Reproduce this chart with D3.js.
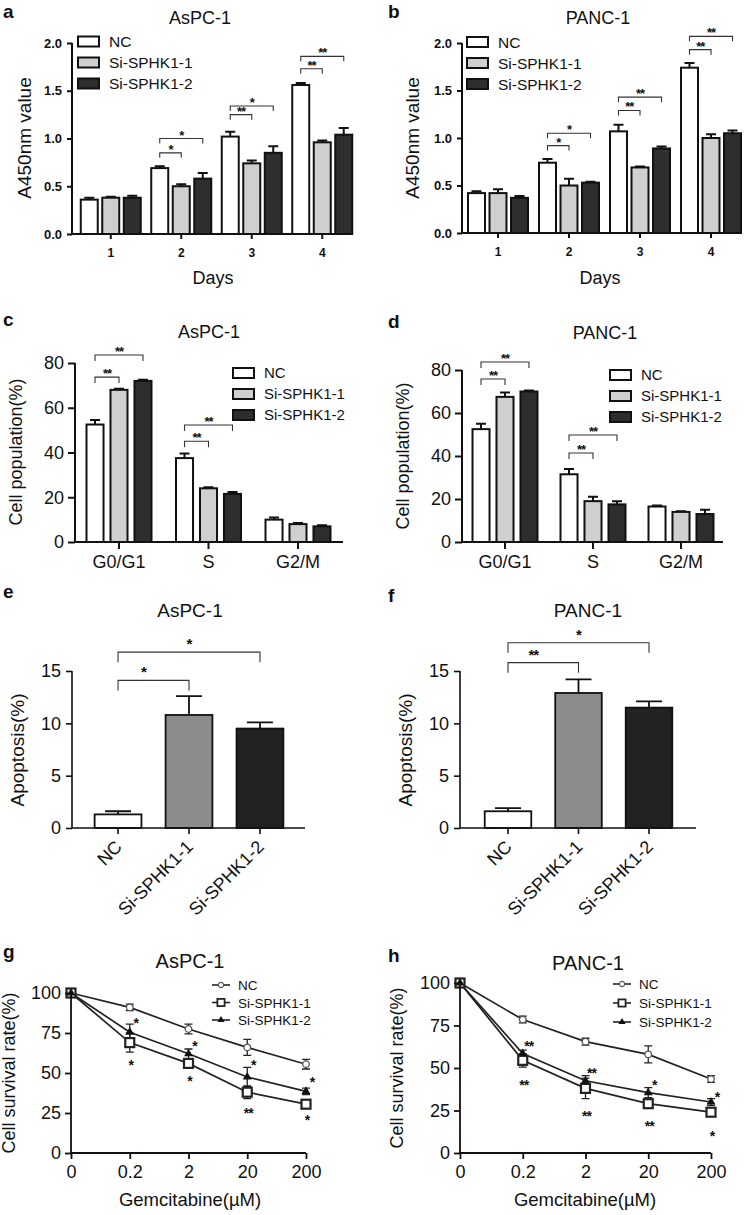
<!DOCTYPE html>
<html>
<head>
<meta charset="utf-8">
<script src="https://cdn.jsdelivr.net/npm/d3@7/dist/d3.min.js"></script>
<style>
  body { margin: 0; background: #fff; }
  svg { display: block; }
  text { font-family: "Liberation Sans", Arial, Helvetica, sans-serif; fill: #111; }
</style>
</head>
<body>
<svg id="fig" width="750" height="1215"></svg>
<script>
// ---- data ----
const groups = ['NC', 'Si-SPHK1-1', 'Si-SPHK1-2'];
const days = ['1', '2', '3', '4'];
const phases = ['G0/G1', 'S', 'G2/M'];
const doses = ['0', '0.2', '2', '20', '200'];

// a: CCK-8, AsPC-1 (rows = NC, Si-1, Si-2)
const aspcA450 = [[0.36, 0.69, 1.02, 1.56], [0.38, 0.50, 0.74, 0.96], [0.38, 0.58, 0.85, 1.04]];
const aspcA450Err = [[0.02, 0.02, 0.05, 0.02], [0.01, 0.02, 0.03, 0.02], [0.02, 0.06, 0.07, 0.07]];
// b: CCK-8, PANC-1
const pancA450 = [[0.42, 0.74, 1.07, 1.74], [0.42, 0.50, 0.69, 1.00], [0.37, 0.53, 0.89, 1.05]];
const pancA450Err = [[0.02, 0.04, 0.07, 0.05], [0.04, 0.07, 0.01, 0.04], [0.02, 0.01, 0.02, 0.03]];
// c/d: cell cycle
const aspcCycle = [[52.5, 37.5, 10], [68, 24, 8], [72, 21.5, 7]];
const aspcCycleErr = [[2, 2, 1], [0.5, 0.5, 0.5], [0.5, 0.8, 0.5]];
const pancCycle = [[52.5, 31.5, 16.5], [67.5, 19, 14], [70, 17.5, 13]];
const pancCycleErr = [[2.5, 2.5, 0.5], [2, 2, 0.3], [0.5, 1.5, 2]];
// e/f: apoptosis
const aspcApop = [1.3, 10.8, 9.5];
const aspcApopErr = [0.3, 1.8, 0.6];
const pancApop = [1.6, 12.9, 11.5];
const pancApopErr = [0.3, 1.3, 0.6];
// g/h: survival vs gemcitabine
const aspcSurv = [[100, 91, 77.5, 66, 55.5], [100, 69, 56, 38, 30.5], [100, 75.5, 62, 47.5, 38.5]];
const aspcSurvErr = [[0, 2, 3, 5, 3], [0, 6, 3, 4, 2], [0, 5, 3, 6, 2]];
const pancSurv = [[100, 78.5, 65.5, 58, 43.5], [100, 54.5, 38, 29, 24], [100, 58.5, 42.5, 35.5, 30]];
const pancSurvErr = [[0, 2, 2, 5, 2], [0, 4, 6, 2, 2], [0, 2, 3, 3, 2]];

// significance brackets: category, compared group, height (data units), label
const sigA = [['2', 1, 0.85, '*'], ['2', 2, 1.0, '*'], ['3', 1, 1.25, '**'], ['3', 2, 1.34, '*'], ['4', 1, 1.73, '**'], ['4', 2, 1.86, '**']];
const sigB = [['2', 1, 0.92, '*'], ['2', 2, 1.05, '*'], ['3', 1, 1.29, '**'], ['3', 2, 1.43, '**'], ['4', 1, 1.93, '**'], ['4', 2, 2.07, '**']];
const sigC = [['G0/G1', 1, 73.7, '**'], ['G0/G1', 2, 83.6, '**'], ['S', 1, 45, '**'], ['S', 2, 52.3, '**']];
const sigD = [['G0/G1', 1, 75.8, '**'], ['G0/G1', 2, 83.7, '**'], ['S', 1, 41.4, '**'], ['S', 2, 49.8, '**']];
const sigE = [[1, 14.1, '*'], [2, 16.8, '*']];
const sigF = [[1, 15.8, '**'], [2, 17.7, '*']];
// stars on survival curves: dose, height, label (upper = Si-2, lower = Si-1)
const starsG = [['0.2', 83, '*', 1], ['0.2', 57, '*', 0], ['2', 69, '*', 1], ['2', 47, '*', 0], ['20', 57, '*', 1], ['20', 27, '**', 0], ['200', 46, '*', 1], ['200', 22.5, '*', 0]];
const starsH = [['0.2', 65, '**', 1], ['0.2', 42, '**', 0], ['2', 49, '**', 1], ['2', 23.5, '**', 0], ['20', 42, '*', 1], ['20', 17.6, '**', 0], ['200', 35, '*', 1], ['200', 12, '*', 0]];

const FONT = '"Liberation Sans", Arial, sans-serif';
const svg = d3.select('#fig');

function letter(x, y, t) {
  svg.append('text').attr('x', x).attr('y', y).text(t)
    .style('font-size', '19px').style('font-weight', '700');
}
function title(x, y, t, fs) {
  svg.append('text').attr('x', x).attr('y', y).attr('text-anchor', 'middle').text(t).style('font-size', fs + 'px');
}
function yTitle(x, y, t, fs) {
  svg.append('text').attr('transform', 'translate(' + x + ',' + y + ') rotate(-90)')
    .attr('text-anchor', 'middle').text(t).style('font-size', fs + 'px');
}
function styleAxis(g, fs, bold, sw) {
  g.selectAll('path.domain').remove();
  g.selectAll('line').attr('stroke', '#111').attr('stroke-width', sw);
  g.selectAll('text').style('font-size', fs + 'px').style('font-weight', bold ? '700' : '400')
    .style('font-family', FONT).attr('fill', '#111');
}

// grouped bar chart (a-d)
function groupedBars(o) {
  const g = svg.append('g');
  const y = d3.scaleLinear().domain(o.yDomain).range([o.yBottom, o.yTop]);
  const x = d3.scaleBand().domain(o.cats).range([o.bandStart, o.bandStart + o.step * o.cats.length]);
  const xs = d3.scaleBand().domain(d3.range(o.vals.length)).range([-o.groupW / 2, o.groupW / 2]).paddingInner(o.pad);
  const cx = (c, s) => x(c) + x.bandwidth() / 2 + xs(s) + xs.bandwidth() / 2;

  o.vals.forEach((row, s) => {
    const gg = g.append('g');
    gg.selectAll('path.err').data(row).join('path').attr('class', 'err')
      .attr('d', (d, i) => {
        const xc = cx(o.cats[i], s), yt = y(d + o.errs[s][i]);
        return 'M' + xc + ',' + y(d) + 'V' + yt + 'M' + (xc - o.cap) + ',' + yt + 'H' + (xc + o.cap);
      })
      .attr('stroke', '#111').attr('stroke-width', o.sw).attr('fill', 'none');
    gg.selectAll('rect').data(row).join('rect')
      .attr('x', (d, i) => cx(o.cats[i], s) - xs.bandwidth() / 2)
      .attr('y', d => y(d))
      .attr('width', xs.bandwidth())
      .attr('height', d => y(o.yDomain[0]) - y(d))
      .attr('fill', o.fills[s]).attr('stroke', '#111').attr('stroke-width', o.sw);
  });

  // axes
  const ya = g.append('g').attr('transform', 'translate(' + o.axisX + ',0)')
    .call(d3.axisLeft(y).tickValues(o.yTicks).tickFormat(o.yFmt).tickSize(o.tick).tickPadding(o.tickPad));
  styleAxis(ya, o.yFs, o.bold, o.sw);
  const xa = g.append('g').attr('transform', 'translate(0,' + o.yBottom + ')')
    .call(d3.axisBottom(x).tickSize(o.tick).tickPadding(o.xPad));
  styleAxis(xa, o.xFs, o.bold, o.sw);
  g.append('path').attr('d', 'M' + o.axisX + ',' + y(o.yDomain[1]) + 'V' + o.yBottom + 'H' + o.axisEnd)
    .attr('stroke', '#111').attr('stroke-width', o.sw).attr('fill', 'none');

  // brackets
  o.sig.forEach(([c, k, v, t]) => {
    const xa0 = cx(c, 0), xb = cx(c, k), yy = y(v);
    g.append('path').attr('d', 'M' + xa0 + ',' + (yy + o.leg) + 'V' + yy + 'H' + xb + 'V' + (yy + o.leg))
      .attr('stroke', '#333').attr('stroke-width', 1.1).attr('fill', 'none');
    g.append('text').attr('x', (xa0 + xb) / 2).attr('y', yy + o.starDy).attr('text-anchor', 'middle')
      .text(t).style('font-size', o.starFs + 'px').style('font-weight', '700').style('letter-spacing', '-1px');
  });

  // legend
  const lg = g.append('g');
  groups.forEach((name, s) => {
    const ly = o.legY + s * o.legStep;
    lg.append('rect').attr('x', o.legX).attr('y', ly - 5).attr('width', 21).attr('height', 10)
      .attr('fill', o.fills[s]).attr('stroke', '#111').attr('stroke-width', 2);
    lg.append('text').attr('x', o.legX + 31).attr('y', ly + o.legFs * 0.36).text(name).style('font-size', o.legFs + 'px');
  });
  return { x, y };
}

// single bar chart (e-f)
function apoBars(o) {
  const g = svg.append('g');
  const y = d3.scaleLinear().domain([0, 15]).range([o.yBottom, o.yTop]);
  const x = d3.scaleBand().domain(groups).range([o.bandStart, o.bandStart + o.step * 3]).padding(0.34);
  const cx = c => x(c) + x.bandwidth() / 2;
  g.selectAll('path.err').data(o.vals).join('path').attr('class', 'err')
    .attr('d', (d, i) => {
      const xc = cx(groups[i]), yt = y(d + o.errs[i]);
      return 'M' + xc + ',' + y(d) + 'V' + yt + 'M' + (xc - 13) + ',' + yt + 'H' + (xc + 13);
    })
    .attr('stroke', '#111').attr('stroke-width', 1.8).attr('fill', 'none');
  g.selectAll('rect').data(o.vals).join('rect')
    .attr('x', (d, i) => x(groups[i])).attr('y', d => y(d))
    .attr('width', x.bandwidth()).attr('height', d => y(0) - y(d))
    .attr('fill', (d, i) => o.fills[i]).attr('stroke', '#111').attr('stroke-width', 1.8);

  const ya = g.append('g').attr('transform', 'translate(' + o.axisX + ',0)')
    .call(d3.axisLeft(y).tickValues([0, 5, 10, 15]).tickSize(6).tickPadding(5));
  styleAxis(ya, 18, false, 1.6);
  const xa = g.append('g').attr('transform', 'translate(0,' + o.yBottom + ')')
    .call(d3.axisBottom(x).tickSize(6));
  styleAxis(xa, 18, false, 1.6);
  xa.selectAll('text').attr('y', 0).attr('dy', 0).attr('text-anchor', 'end')
    .attr('transform', 'translate(5,20) rotate(-45)');
  g.append('path').attr('d', 'M' + o.axisX + ',' + y(15) + 'V' + o.yBottom + 'H' + o.axisEnd)
    .attr('stroke', '#111').attr('stroke-width', 1.6).attr('fill', 'none');

  o.sig.forEach(([k, v, t]) => {
    const xa0 = cx(groups[0]), xb = cx(groups[k]), yy = y(v);
    g.append('path').attr('d', 'M' + xa0 + ',' + (yy + 10) + 'V' + yy + 'H' + xb + 'V' + (yy + 10))
      .attr('stroke', '#333').attr('stroke-width', 1.1).attr('fill', 'none');
    g.append('text').attr('x', (xa0 + xb) / 2 - (k === 1 ? 10 : 0)).attr('y', yy - 3).attr('text-anchor', 'middle')
      .text(t).style('font-size', '15px').style('font-weight', '700').style('letter-spacing', '-1px');
  });
}

// survival curves (g-h)
function survival(o) {
  const g = svg.append('g');
  const y = d3.scaleLinear().domain([0, 100]).range([o.yBottom, o.yTop]);
  const x = d3.scalePoint().domain(doses).range([o.axisX, o.axisEnd]);
  const line = d3.line().x((d, i) => x(doses[i])).y(d => y(d));
  o.vals.forEach(row => {
    g.append('path').attr('d', line(row)).attr('fill', 'none').attr('stroke', '#222').attr('stroke-width', 1.7);
  });
  o.vals.forEach((row, s) => {
    g.selectAll('path.e' + s).data(row).join('path').attr('class', 'e' + s)
      .attr('d', (d, i) => {
        const e = o.errs[s][i];
        if (!e) return null;
        const xc = x(doses[i]), y1 = y(d + e), y0 = y(d - e);
        return 'M' + xc + ',' + y0 + 'V' + y1 + 'M' + (xc - 4) + ',' + y1 + 'H' + (xc + 4) + 'M' + (xc - 4) + ',' + y0 + 'H' + (xc + 4);
      })
      .attr('stroke', '#222').attr('stroke-width', 1.3).attr('fill', 'none');
  });
  const marker = (sel, s) => {
    if (s === 0) sel.append('circle').attr('r', 3.3).attr('fill', '#fff').attr('stroke', '#555').attr('stroke-width', 1.3);
    else if (s === 1) sel.append('rect').attr('x', -4.5).attr('y', -4.5).attr('width', 9).attr('height', 9)
      .attr('fill', '#fff').attr('stroke', '#222').attr('stroke-width', 2.2);
    else sel.append('path').attr('d', d3.symbol(d3.symbolTriangle, 34)()).attr('fill', '#111');
  };
  o.vals.forEach((row, s) => {
    row.forEach((d, i) => {
      const m = g.append('g').attr('transform', 'translate(' + x(doses[i]) + ',' + y(d) + ')');
      marker(m, s);
    });
  });

  const ya = g.append('g').attr('transform', 'translate(' + o.axisX + ',0)')
    .call(d3.axisLeft(y).tickValues([0, 25, 50, 75, 100]).tickSize(6).tickPadding(4));
  styleAxis(ya, 18, false, 1.8);
  const xa = g.append('g').attr('transform', 'translate(0,' + o.yBottom + ')')
    .call(d3.axisBottom(x).tickSize(6).tickPadding(6));
  styleAxis(xa, 18, false, 1.8);
  g.append('path').attr('d', 'M' + o.axisX + ',' + o.yTop + 'V' + o.yBottom + 'H' + o.axisEnd)
    .attr('stroke', '#111').attr('stroke-width', 1.8).attr('fill', 'none');

  o.stars.forEach(([dose, v, t, up]) => {
    g.append('text').attr('x', x(dose) + (up ? 6 : 1)).attr('y', y(v) + 8).attr('text-anchor', 'middle')
      .text(t).style('font-size', '14px').style('font-weight', '700').style('letter-spacing', '-1px');
  });

  groups.forEach((name, s) => {
    const ly = o.legY + s * o.legStep;
    g.append('path').attr('d', 'M' + o.legX + ',' + ly + 'h18').attr('stroke', '#222').attr('stroke-width', 1.6);
    marker(g.append('g').attr('transform', 'translate(' + (o.legX + 9) + ',' + ly + ') scale(0.8)'), s);
    g.append('text').attr('x', o.legX + 26).attr('y', ly + 5).text(name).style('font-size', '13.5px');
  });
}

const barFills = ['#ffffff', '#cfcfcf', '#2e2e2e'];

// ---- a ----
letter(3, 18, 'a');
title(200, 24, 'AsPC-1', 18);
yTitle(31, 138, 'A450nm value', 19);
title(213, 284, 'Days', 18);
groupedBars({
  cats: days, vals: aspcA450, errs: aspcA450Err, fills: barFills, sig: sigA,
  yDomain: [0, 2], yTicks: [0, 0.5, 1, 1.5, 2], yFmt: d3.format('.1f'),
  yBottom: 234, yTop: 43, axisX: 72, axisEnd: 352, bandStart: 75.5, step: 70.5,
  groupW: 60, pad: 0.21, sw: 2, cap: 5, tick: 5, tickPad: 5, xPad: 9, yFs: 13, xFs: 12, bold: true,
  leg: 5, starDy: 1, starFs: 13, legX: 78, legY: 41.5, legStep: 21, legFs: 15.5
});

// ---- b ----
letter(388, 18, 'b');
title(598, 24, 'PANC-1', 18);
yTitle(419, 138, 'A450nm value', 19);
title(600, 284, 'Days', 18);
groupedBars({
  cats: days, vals: pancA450, errs: pancA450Err, fills: barFills, sig: sigB,
  yDomain: [0, 2], yTicks: [0, 0.5, 1, 1.5, 2], yFmt: d3.format('.1f'),
  yBottom: 233, yTop: 43, axisX: 462, axisEnd: 737, bandStart: 462.5, step: 71,
  groupW: 60, pad: 0.21, sw: 2, cap: 5, tick: 5, tickPad: 5, xPad: 9, yFs: 13, xFs: 12, bold: true,
  leg: 5, starDy: 1, starFs: 13, legX: 467, legY: 42, legStep: 21, legFs: 15.5
});

// ---- c ----
letter(3, 326, 'c');
title(209, 338, 'AsPC-1', 18);
yTitle(22, 452, 'Cell population(%)', 18);
groupedBars({
  cats: phases, vals: aspcCycle, errs: aspcCycleErr, fills: barFills, sig: sigC,
  yDomain: [0, 80], yTicks: [0, 20, 40, 60, 80], yFmt: d3.format('d'),
  yBottom: 542, yTop: 363, axisX: 75, axisEnd: 343, bandStart: 74.25, step: 89.5,
  groupW: 65, pad: 0.29, sw: 2, cap: 5, tick: 7, tickPad: 4, xPad: 6, yFs: 18, xFs: 18, bold: false,
  leg: 6, starDy: 1, starFs: 13, legX: 233, legY: 373, legStep: 21, legFs: 15
});

// ---- d ----
letter(388, 328, 'd');
title(605, 339, 'PANC-1', 18);
yTitle(409, 456, 'Cell population(%)', 18);
groupedBars({
  cats: phases, vals: pancCycle, errs: pancCycleErr, fills: barFills, sig: sigD,
  yDomain: [0, 80], yTicks: [0, 20, 40, 60, 80], yFmt: d3.format('d'),
  yBottom: 542, yTop: 370, axisX: 462, axisEnd: 723, bandStart: 461, step: 88,
  groupW: 65, pad: 0.29, sw: 2, cap: 5, tick: 7, tickPad: 4, xPad: 6, yFs: 18, xFs: 18, bold: false,
  leg: 6, starDy: 1, starFs: 13, legX: 610, legY: 375, legStep: 21, legFs: 15
});

// ---- e ----
letter(3, 598, 'e');
title(190, 617, 'AsPC-1', 19);
yTitle(24, 750, 'Apoptosis(%)', 19);
apoBars({
  vals: aspcApop, errs: aspcApopErr, fills: ['#ffffff', '#8c8c8c', '#222222'], sig: sigE,
  yBottom: 828, yTop: 671, axisX: 72, axisEnd: 305, bandStart: 70.5, step: 79
});

// ---- f ----
letter(388, 602, 'f');
title(588, 617, 'PANC-1', 19);
yTitle(412, 750, 'Apoptosis(%)', 19);
apoBars({
  vals: pancApop, errs: pancApopErr, fills: ['#ffffff', '#8c8c8c', '#222222'], sig: sigF,
  yBottom: 828, yTop: 671, axisX: 460, axisEnd: 696, bandStart: 460.75, step: 78.5
});

// ---- g ----
letter(3, 958, 'g');
title(190, 968, 'AsPC-1', 20);
yTitle(15, 1073, 'Cell survival rate(%)', 18);
title(190, 1206, 'Gemcitabine(\u00b5M)', 18.5);
survival({
  vals: aspcSurv, errs: aspcSurvErr, stars: starsG,
  yBottom: 1153, yTop: 993, axisX: 71, axisEnd: 306, legX: 212, legY: 985, legStep: 17.5
});

// ---- h ----
letter(388, 962, 'h');
title(588, 970, 'PANC-1', 20);
yTitle(403, 1068, 'Cell survival rate(%)', 18);
title(585, 1206, 'Gemcitabine(\u00b5M)', 18.5);
survival({
  vals: pancSurv, errs: pancSurvErr, stars: starsH,
  yBottom: 1153, yTop: 983, axisX: 460, axisEnd: 711, legX: 613, legY: 984, legStep: 19
});
</script>
</body>
</html>
